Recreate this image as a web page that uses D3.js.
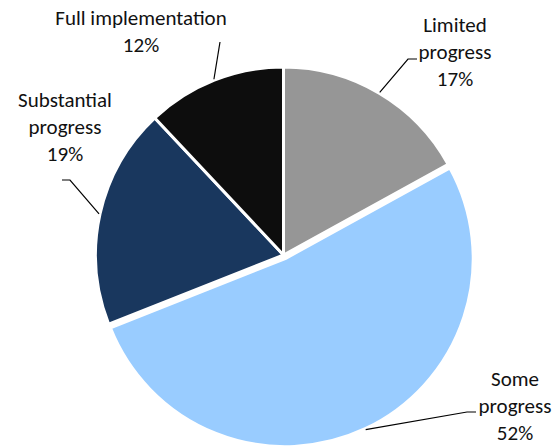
<!DOCTYPE html>
<html>
<head>
<meta charset="utf-8">
<script src="https://cdn.jsdelivr.net/npm/d3@7"></script>
<style>
  html, body { margin: 0; padding: 0; background: #ffffff; }
  svg text { font-family: Calibri, Carlito, Lato, "Open Sans", sans-serif; font-size: 21px; fill: #111111; }
</style>
</head>
<body>
<svg id="chart" width="560" height="447"></svg>
<script>
// ---- data ----
const categories = ["Limited progress", "Some progress", "Substantial progress", "Full implementation"];
const values = [17, 52, 19, 12];
const labelLines = [["Limited", "progress", "17%"], ["Some", "progress", "52%"], ["Substantial", "progress", "19%"], ["Full implementation", "12%"]];

// ---- layout / style ----
const colors = ["#969696", "#99CCFF", "#19375E", "#0D0D0D"];
const explode = [0, 4, 0, 0];
const cx = 283.5, cy = 255, radius = 188;
const lineHeight = 27;
// label anchors: text centre x, baseline of last line, leader elbow and horizontal end
const labelLayout = [
  { x: 455, lastBaseline: 86,  elbow: [408, 59],  end: [417, 59] },
  { x: 515, lastBaseline: 440, elbow: [467, 412], end: [476, 412] },
  { x: 65,  lastBaseline: 161, elbow: [70, 180],  end: [62, 180] },
  { x: 141, lastBaseline: 52,  elbow: null,       end: [220, 42] }
];

const svg = d3.select("#chart");
const g = svg.append("g").attr("transform", `translate(${cx},${cy})`);

const pie = d3.pie().sort(null).value(d => d)(values);
const arc = d3.arc().innerRadius(0).outerRadius(radius);

function offsetOf(d, i) {
  const a = (d.startAngle + d.endAngle) / 2;
  return [Math.sin(a) * explode[i], -Math.cos(a) * explode[i]];
}

g.selectAll("path.slice")
  .data(pie)
  .join("path")
  .attr("class", "slice")
  .attr("d", arc)
  .attr("fill", (d, i) => colors[i])
  .attr("stroke", "#ffffff")
  .attr("stroke-width", 3)
  .attr("stroke-linejoin", "round")
  .attr("transform", (d, i) => { const o = offsetOf(d, i); return `translate(${o[0]},${o[1]})`; });

// leader lines
const lineGen = d3.line();
pie.forEach((d, i) => {
  const a = (d.startAngle + d.endAngle) / 2;
  const o = offsetOf(d, i);
  const rr = radius + 1;
  const start = [cx + o[0] + Math.sin(a) * rr, cy + o[1] - Math.cos(a) * rr];
  const L = labelLayout[i];
  const pts = L.elbow ? [start, L.elbow, L.end] : [start, L.end];
  svg.append("path")
    .attr("d", lineGen(pts))
    .attr("fill", "none")
    .attr("stroke", "#000000")
    .attr("stroke-width", 1.2);
});

// labels
labelLines.forEach((lines, i) => {
  const L = labelLayout[i];
  const n = lines.length;
  const t = svg.append("text").attr("text-anchor", "middle");
  lines.forEach((s, k) => {
    t.append("tspan")
      .attr("x", L.x)
      .attr("y", L.lastBaseline - (n - 1 - k) * lineHeight)
      .text(s);
  });
});
</script>
</body>
</html>
